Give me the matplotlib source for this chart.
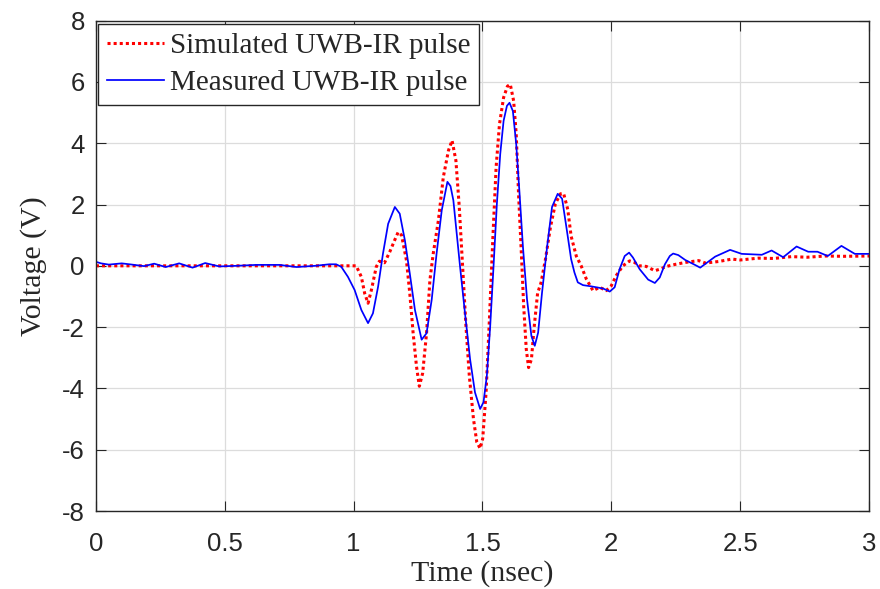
import matplotlib
matplotlib.use("Agg")
import matplotlib.pyplot as plt

# Simulated UWB-IR pulse (time in ns, voltage in V)
sim_t = [0.0, 0.5, 1.0, 1.01, 1.03, 1.043, 1.056, 1.069, 1.088, 1.10, 1.12, 1.14,
         1.16, 1.173, 1.186, 1.205, 1.218, 1.231, 1.244, 1.255, 1.268, 1.283,
         1.296, 1.309, 1.329, 1.348, 1.368, 1.382, 1.397, 1.41, 1.423, 1.436,
         1.449, 1.465, 1.478, 1.491, 1.501, 1.514, 1.527, 1.54, 1.553, 1.566,
         1.582, 1.597, 1.608, 1.621, 1.631, 1.64, 1.651, 1.66, 1.67, 1.679,
         1.69, 1.701, 1.714, 1.727, 1.744, 1.764, 1.783, 1.803, 1.815, 1.831,
         1.844, 1.864, 1.883, 1.903, 1.929, 1.955, 1.98, 2.0, 2.019, 2.045,
         2.071, 2.09, 2.11, 2.136, 2.169, 2.188, 2.214, 2.25, 2.287, 2.339,
         2.365, 2.416, 2.468, 2.5, 2.57, 2.63, 2.70, 2.76, 2.83, 2.9, 3.0]
sim_v = [0.0, 0.0, 0.0, 0.0, -0.36, -0.9, -1.22, -0.79, -0.03, 0.15, 0.10, 0.45,
         0.85, 1.1, 1.0, 0.18, -0.9, -2.2, -3.28, -3.93, -3.5, -2.2,
         -0.47, 0.4, 1.48, 2.89, 3.76, 4.09, 3.43, 1.92, -0.02, -1.97,
         -3.59, -4.99, -5.75, -5.96, -5.64, -4.13, -1.75, 0.84, 3.22, 4.62,
         5.49, 5.86, 5.92, 5.38, 4.30, 2.35, 0.41, -1.32, -2.72, -3.32,
         -3.05, -1.97, -0.89, -0.56, 0.19, 1.27, 2.03, 2.35, 2.36, 1.84,
         0.97, 0.32, 0.0, -0.43, -0.81, -0.70, -0.81, -0.65, -0.32, 0.0,
         0.16, 0.11, 0.0, -0.02, -0.16, -0.11, -0.02, 0.05, 0.11, 0.17,
         0.09, 0.14, 0.22, 0.19, 0.25, 0.24, 0.30, 0.28, 0.32, 0.31, 0.32]

# Measured UWB-IR pulse
meas_t = [0.0, 0.02, 0.05, 0.1, 0.14, 0.187, 0.226, 0.271, 0.323, 0.375, 0.424,
          0.479, 0.544, 0.622, 0.713, 0.778, 0.85, 0.906, 0.932, 0.952, 0.978,
          1.004, 1.03, 1.056, 1.075, 1.095, 1.114, 1.134, 1.16, 1.179, 1.199,
          1.218, 1.238, 1.264, 1.283, 1.303, 1.322, 1.342, 1.364, 1.376, 1.387,
          1.40, 1.413, 1.432, 1.452, 1.471, 1.491, 1.504, 1.517, 1.53, 1.543,
          1.556, 1.569, 1.582, 1.595, 1.605, 1.618, 1.631, 1.644, 1.657, 1.673,
          1.69, 1.703, 1.716, 1.731, 1.751, 1.77, 1.792, 1.809, 1.825, 1.844,
          1.857, 1.87, 1.89, 1.922, 1.968, 1.994, 2.013, 2.032, 2.052, 2.069,
          2.084, 2.11, 2.143, 2.169, 2.188, 2.208, 2.227, 2.24, 2.26, 2.287,
          2.32, 2.345, 2.403, 2.461, 2.506, 2.584, 2.622, 2.667, 2.719, 2.764,
          2.80, 2.84, 2.893, 2.945, 3.0]
meas_v = [0.13, 0.08, 0.04, 0.08, 0.04, -0.01, 0.07, -0.04, 0.08, -0.06, 0.09,
          -0.02, 0.0, 0.03, 0.03, -0.04, 0.0, 0.05, 0.05, -0.03, -0.36,
          -0.79, -1.44, -1.87, -1.55, -0.68, 0.4, 1.37, 1.92, 1.70, 0.83,
          -0.25, -1.44, -2.41, -2.2, -1.11, 0.4, 1.81, 2.74, 2.60, 2.14,
          1.06, -0.02, -1.53, -3.05, -4.13, -4.67, -4.45, -3.59, -1.97, -0.02,
          2.03, 3.65, 4.73, 5.22, 5.32, 5.05, 3.97, 2.35, 0.63, -1.1,
          -2.29, -2.61, -2.18, -0.89, 0.63, 1.92, 2.35, 2.19, 1.30, 0.22,
          -0.22, -0.54, -0.63, -0.67, -0.74, -0.84, -0.70, -0.11, 0.32, 0.43,
          0.27, -0.11, -0.45, -0.56, -0.38, 0.05, 0.32, 0.40, 0.35, 0.19,
          0.05, -0.06, 0.30, 0.52, 0.39, 0.36, 0.50, 0.28, 0.63, 0.46,
          0.46, 0.32, 0.65, 0.39, 0.39]

x_ticks = [0, 0.5, 1, 1.5, 2, 2.5, 3]
x_tick_labels = ["0", "0.5", "1", "1.5", "2", "2.5", "3"]
y_ticks = [-8, -6, -4, -2, 0, 2, 4, 6, 8]
y_tick_labels = ["-8", "-6", "-4", "-2", "0", "2", "4", "6", "8"]

serif = ["Liberation Serif", "DejaVu Serif"]
sans = ["Liberation Sans", "DejaVu Sans"]

fig = plt.figure(figsize=(8.8, 5.89), dpi=100)
ax = fig.add_axes([0.109, 0.1324, 0.8785, 0.8326])

ax.plot(sim_t, sim_v, color="#ff0000", lw=2.2, linestyle=(0, (1, 1)),
        label="Simulated UWB-IR pulse")
ax.plot(meas_t, meas_v, color="#0000ff", lw=1.25,
        label="Measured UWB-IR pulse")

ax.set_xlim(0, 3)
ax.set_ylim(-8, 8)
ax.set_xticks(x_ticks)
ax.set_xticklabels(x_tick_labels, fontfamily=sans, fontsize=18.5, color="#262626")
ax.set_yticks(y_ticks)
ax.set_yticklabels(y_tick_labels, fontfamily=sans, fontsize=18.5, color="#262626")
ax.tick_params(direction="in", length=7, width=0.8, color="#262626",
               top=True, right=True)
ax.tick_params(axis="x", pad=15)
ax.tick_params(axis="y", pad=8)

ax.grid(True, color="#dcdcdc", lw=0.9)
ax.set_axisbelow(True)
for sp in ax.spines.values():
    sp.set_color("#262626")
    sp.set_linewidth(1.0)

ax.set_xlabel("Time (nsec)", fontfamily=serif, fontsize=21.5, color="#262626",
              labelpad=3)
ax.set_ylabel("Voltage (V)", fontfamily=serif, fontsize=21.5, color="#262626",
              labelpad=11)

leg = ax.legend(loc="upper left", bbox_to_anchor=(0.003, 0.994), borderaxespad=0,
                prop={"family": serif, "size": 21}, handlelength=1.95,
                handletextpad=0.2, labelspacing=0.38, borderpad=0.3,
                fancybox=False, framealpha=1, edgecolor="#262626")
leg.get_frame().set_linewidth(1.0)
for t in leg.get_texts():
    t.set_color("#262626")

fig.savefig("out.png", dpi=100)
